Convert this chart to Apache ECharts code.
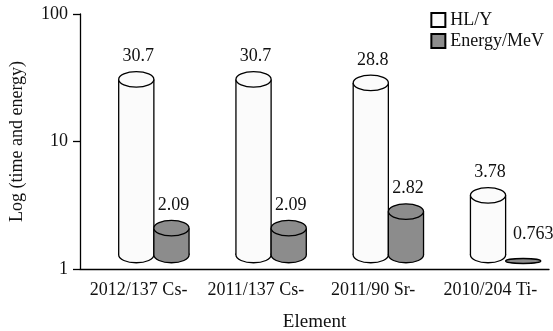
<!DOCTYPE html>
<html>
<head>
<meta charset="utf-8">
<script src="https://cdn.jsdelivr.net/npm/echarts@6/dist/echarts.min.js"></script>
<style>
  html, body { margin: 0; padding: 0; background: #fff; }
  #chart { width: 553px; height: 331px; }
</style>
</head>
<body>
<div id="chart"></div>
<script>
// data
const categories = ["2012/137 Cs-", "2011/137 Cs-", "2011/90 Sr-", "2010/204 Ti-"]
const hlValues = [30.7, 30.7, 28.8, 3.78]
const energyValues = [2.09, 2.09, 2.82, 0.763]

const FONT = "Liberation Serif"

// draws one cylinder per data item
function cylinder(offset, fill) {
  return function (params, api) {
    const idx = api.value(0)
    const v = api.value(1)
    const p0 = api.coord([0, 1])
    const p1 = api.coord([1, 1])
    const band = p1[0] - p0[0]
    const base = api.coord([idx, 1])
    const cx = base[0] + band * offset
    const rx = band * 0.15
    const ry = rx * 0.44
    const baseY = base[1] - 14
    const stroke = { stroke: "#000", lineWidth: 1.3 }
    const label = String(v)

    if (v < 1) {
      // below the axis minimum: only a flat disc
      return {
        type: "group",
        children: [
          { type: "ellipse", shape: { cx: cx, cy: baseY + 6, rx: rx, ry: 2.5 }, style: Object.assign({ fill: fill }, stroke) },
          { type: "text", style: { text: label, x: cx + 10, y: baseY - 21, align: "center", verticalAlign: "middle", font: "18px " + FONT, fill: "#111" } }
        ]
      }
    }
    const topY = api.coord([idx, v])[1]
    return {
      type: "group",
      children: [
        { type: "ellipse", shape: { cx: cx, cy: baseY, rx: rx, ry: ry }, style: Object.assign({ fill: fill }, stroke) },
        { type: "rect", shape: { x: cx - rx, y: topY, width: rx * 2, height: baseY - topY }, style: { fill: fill } },
        { type: "line", shape: { x1: cx - rx, y1: topY, x2: cx - rx, y2: baseY }, style: stroke },
        { type: "line", shape: { x1: cx + rx, y1: topY, x2: cx + rx, y2: baseY }, style: stroke },
        { type: "ellipse", shape: { cx: cx, cy: topY, rx: rx, ry: ry }, style: Object.assign({ fill: fill }, stroke) },
        { type: "text", style: { text: label, x: cx + 2, y: topY - 23, align: "center", verticalAlign: "middle", font: "18px " + FONT, fill: "#111" } }
      ]
    }
  }
}

const chart = echarts.init(document.getElementById("chart"), null, { renderer: "canvas" })

const option = {
  animation: false,
  textStyle: { fontFamily: FONT, color: "#111" },
  legend: {
    orient: "vertical",
    right: 4,
    top: 6,
    itemWidth: 14,
    itemHeight: 14,
    itemGap: 3,
    icon: "rect",
    textStyle: { fontFamily: FONT, fontSize: 18, lineHeight: 14, color: "#111" },
    data: ["HL/Y", "Energy/MeV"]
  },
  grid: { left: 80, right: 4, top: 14, bottom: 62, outerBoundsMode: "none" },
  xAxis: [
    {
      type: "category",
      data: categories,
      name: "Element",
      nameLocation: "middle",
      nameGap: 44,
      nameTextStyle: { fontFamily: FONT, fontSize: 19, color: "#111" },
      axisLine: { lineStyle: { color: "#000", width: 1.3 } },
      axisTick: { length: 6, interval: 0, lineStyle: { color: "#000", width: 1.3 } },
      axisLabel: { interval: 0, fontFamily: FONT, fontSize: 18, color: "#111", margin: 12 }
    },
    {
      // extra ticks under each category centre
      type: "category",
      data: categories,
      position: "bottom",
      axisLine: { show: false },
      axisTick: { alignWithLabel: true, length: 6, lineStyle: { color: "#000", width: 1.3 } },
      axisLabel: { show: false }
    }
  ],
  yAxis: {
    type: "log",
    logBase: 10,
    min: 1,
    max: 100,
    name: "Log (time and energy)",
    nameLocation: "middle",
    nameGap: 54,
    nameTextStyle: { fontFamily: FONT, fontSize: 18, color: "#111" },
    axisLine: { show: true, lineStyle: { color: "#000", width: 1.3 } },
    axisTick: { show: true, length: 7, lineStyle: { color: "#000", width: 1.3 } },
    splitLine: { show: false },
    axisLabel: { fontFamily: FONT, fontSize: 18, color: "#111", margin: 12 }
  },
  series: [
    {
      name: "HL/Y",
      type: "custom",
      renderItem: cylinder(-0.02, "#fbfbfb"),
      itemStyle: { color: "#fbfbfb", borderColor: "#000", borderWidth: 1.3 },
      encode: { x: 0, y: 1 },
      data: hlValues.map((v, i) => [i, v])
    },
    {
      name: "Energy/MeV",
      type: "custom",
      renderItem: cylinder(0.28, "#8c8c8c"),
      itemStyle: { color: "#8c8c8c", borderColor: "#000", borderWidth: 1.3 },
      encode: { x: 0, y: 1 },
      data: energyValues.map((v, i) => [i, v])
    }
  ]
}

chart.setOption(option)
</script>
</body>
</html>
